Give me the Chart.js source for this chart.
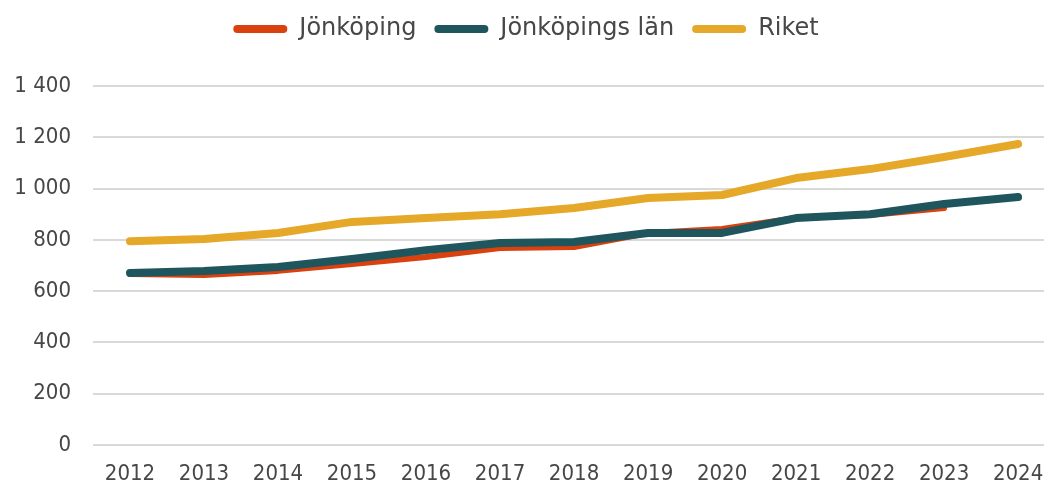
<!DOCTYPE html>
<html>
<head>
<meta charset="utf-8">
<script src="https://cdn.jsdelivr.net/npm/chart.js@4"></script>
<style>
  html, body { margin: 0; padding: 0; background: #fff; }
  #wrap { width: 1044px; height: 486px; }
</style>
</head>
<body>
<div id="wrap"><canvas id="chart"></canvas></div>
<script>
  const years = [2012, 2013, 2014, 2015, 2016, 2017, 2018, 2019, 2020, 2021, 2022, 2023, 2024];
  const jonkoping = [667, 663, 679, 706, 733, 768, 772, 827, 842, 885, 897, 924, null];
  const jonkopingsLan = [671, 679, 694, 725, 760, 788, 792, 827, 827, 885, 900, 940, 967];
  const riket = [795, 803, 827, 870, 885, 900, 924, 963, 975, 1041, 1076, 1123, 1174];

  const toPoints = (values) =>
    years.map((y, i) => ({ x: y, y: values[i] }));

  const fontFamily = "'DejaVu Sans Condensed', 'DejaVu Sans', sans-serif";
  const legendFont = "'DejaVu Sans', sans-serif";
  const textColor = "#474747";

  // extra room under the legend
  const legendSpace = {
    id: "legendSpace",
    beforeInit(chart) {
      const fit = chart.legend.fit;
      chart.legend.fit = function () {
        fit.bind(chart.legend)();
        this.height += 35;
      };
    },
  };

  const ctx = document.getElementById("chart").getContext("2d");
  new Chart(ctx, {
    type: "line",
    data: {
      datasets: [
        {
          label: "Jönköping",
          data: toPoints(jonkoping),
          borderColor: "#d9410f",
          backgroundColor: "#d9410f",
          borderWidth: 6,
          order: 2,
        },
        {
          label: "Jönköpings län",
          data: toPoints(jonkopingsLan),
          borderColor: "#1f555c",
          backgroundColor: "#1f555c",
          borderWidth: 8,
          order: 1,
        },
        {
          label: "Riket",
          data: toPoints(riket),
          borderColor: "#e5a829",
          backgroundColor: "#e5a829",
          borderWidth: 8,
          order: 3,
        },
      ],
    },
    plugins: [legendSpace],
    options: {
      responsive: true,
      maintainAspectRatio: false,
      animation: false,
      layout: { padding: { left: 8, right: 0, top: -1, bottom: 0 } },
      elements: {
        point: { radius: 0, hoverRadius: 0 },
        line: {
          tension: 0,
          borderCapStyle: "round",
          borderJoinStyle: "round",
        },
      },
      plugins: {
        tooltip: { enabled: false },
        legend: {
          position: "top",
          labels: {
            color: textColor,
            font: { family: legendFont, size: 24 },
            boxWidth: 54,
            boxHeight: 8,
            useBorderRadius: true,
            borderRadius: 4,
            padding: 18,
            sort: (a, b) => a.datasetIndex - b.datasetIndex,
            generateLabels: (chart) =>
              Chart.defaults.plugins.legend.labels
                .generateLabels(chart)
                .map((item) => ({ ...item, lineWidth: 0 })),
          },
        },
      },
      scales: {
        x: {
          type: "linear",
          min: 2011.5,
          max: 2024.35,
          grid: { display: false },
          border: { display: false },
          ticks: {
            stepSize: 1,
            includeBounds: false,
            color: textColor,
            font: { family: fontFamily, size: 22 },
            padding: 8,
            callback: (value) => String(value),
          },
          afterFit: (scale) => {
            scale.paddingLeft = 0;
            scale.paddingRight = 0;
            scale.height = 41;
          },
        },
        y: {
          min: 0,
          max: 1400,
          grid: { color: "#d9d9d9", lineWidth: 2, drawTicks: false },
          border: { display: false },
          ticks: {
            stepSize: 200,
            color: textColor,
            font: { family: fontFamily, size: 22 },
            padding: 22,
            callback: (value) =>
              String(value).replace(/\B(?=(\d{3})+(?!\d))/g, " "),
          },
          afterFit: (scale) => {
            scale.width = 85;
          },
        },
      },
    },
  });
</script>
</body>
</html>
